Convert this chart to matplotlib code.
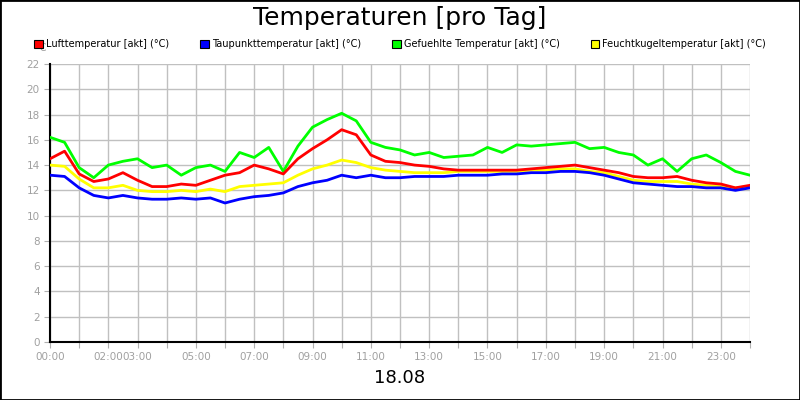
import numpy as np
import matplotlib.pyplot as plt
from matplotlib.patches import Rectangle

# Stunden (halbstündlich)
hours = np.arange(49) * 0.5
luft = [14.5, 15.1, 13.3, 12.7, 12.9, 13.4, 12.8, 12.3, 12.3, 12.5, 12.4, 12.8, 13.2, 13.4, 14.0, 13.7,
        13.3, 14.5, 15.3, 16.0, 16.8, 16.4, 14.8, 14.3, 14.2, 14.0, 13.9, 13.7, 13.6, 13.6, 13.6, 13.6,
        13.6, 13.7, 13.8, 13.9, 14.0, 13.8, 13.6, 13.4, 13.1, 13.0, 13.0, 13.1, 12.8, 12.6, 12.5, 12.2, 12.4]
taupunkt = [13.2, 13.1, 12.2, 11.6, 11.4, 11.6, 11.4, 11.3, 11.3, 11.4, 11.3, 11.4, 11.0, 11.3, 11.5, 11.6,
            11.8, 12.3, 12.6, 12.8, 13.2, 13.0, 13.2, 13.0, 13.0, 13.1, 13.1, 13.1, 13.2, 13.2, 13.2, 13.3,
            13.3, 13.4, 13.4, 13.5, 13.5, 13.4, 13.2, 12.9, 12.6, 12.5, 12.4, 12.3, 12.3, 12.2, 12.2, 12.0, 12.2]
gefuehlt = [16.2, 15.8, 13.8, 13.0, 14.0, 14.3, 14.5, 13.8, 14.0, 13.2, 13.8, 14.0, 13.5, 15.0, 14.6, 15.4,
            13.5, 15.5, 17.0, 17.6, 18.1, 17.5, 15.8, 15.4, 15.2, 14.8, 15.0, 14.6, 14.7, 14.8, 15.4, 15.0,
            15.6, 15.5, 15.6, 15.7, 15.8, 15.3, 15.4, 15.0, 14.8, 14.0, 14.5, 13.5, 14.5, 14.8, 14.2, 13.5, 13.2]
feuchtkugel = [14.0, 13.9, 12.9, 12.2, 12.2, 12.4, 12.0, 11.9, 11.9, 12.0, 11.9, 12.1, 11.9, 12.3, 12.4, 12.5,
               12.6, 13.2, 13.7, 14.0, 14.4, 14.2, 13.8, 13.6, 13.5, 13.4, 13.4, 13.4, 13.5, 13.5, 13.5, 13.5,
               13.5, 13.6, 13.6, 13.7, 13.7, 13.5, 13.4, 13.1, 12.8, 12.7, 12.7, 12.7, 12.5, 12.4, 12.3, 12.2, 12.3]
tick_hours = [0, 2, 3, 5, 7, 9, 11, 13, 15, 17, 19, 21, 23]

fig = plt.figure(figsize=(8, 4), dpi=100)
fig.patches.append(Rectangle((0, 0), 1, 1, transform=fig.transFigure, fill=False, ec='black', lw=2))
ax = fig.add_axes([0.0625, 0.145, 0.875, 0.695])

serien = [('Lufttemperatur [akt] (°C)', luft, '#ff0000'),
          ('Taupunkttemperatur [akt] (°C)', taupunkt, '#0000ff'),
          ('Gefuehlte Temperatur [akt] (°C)', gefuehlt, '#00ff00'),
          ('Feuchtkugeltemperatur [akt] (°C)', feuchtkugel, '#ffff00')]
# Reihenfolge wie im Original: grün hinten
for i in [2, 3, 0, 1]:
    name, werte, farbe = serien[i]
    ax.plot(hours, werte, color=farbe, lw=2, zorder=3)

ax.set_xlim(0, 24)
ax.set_ylim(0, 22)
ax.set_xticks(range(25))
ax.set_xticklabels(['%02d:00' % h if h in tick_hours else '' for h in range(25)])
ax.set_yticks(range(0, 23, 2))
ax.grid(True, color='#c0c0c0', lw=1)
ax.tick_params(colors='#b0b0b0', labelsize=7.5, length=4)
ax.tick_params(axis='both', labelcolor='#a0a0a0')
for s in ['top', 'right']:
    ax.spines[s].set_visible(False)
for s in ['left', 'bottom']:
    ax.spines[s].set_linewidth(1.5)

handles = [Rectangle((0, 0), 1, 1, fc=f, ec='black', lw=0.8) for _, _, f in serien]
fig.legend(handles, [n for n, _, _ in serien], loc='center', bbox_to_anchor=(0.5, 0.89), ncol=4,
           frameon=False, fontsize=7, handlelength=0.9, handleheight=0.9, columnspacing=3.2, handletextpad=0.3)
fig.text(0.5, 0.955, 'Temperaturen [pro Tag]', ha='center', va='center', fontsize=18)
fig.text(0.058, 0.88, '°C', ha='right', va='center', fontsize=7, color='#a0a0a0')
fig.text(0.5, 0.055, '18.08', ha='center', va='center', fontsize=13)

fig.savefig('out.png')
